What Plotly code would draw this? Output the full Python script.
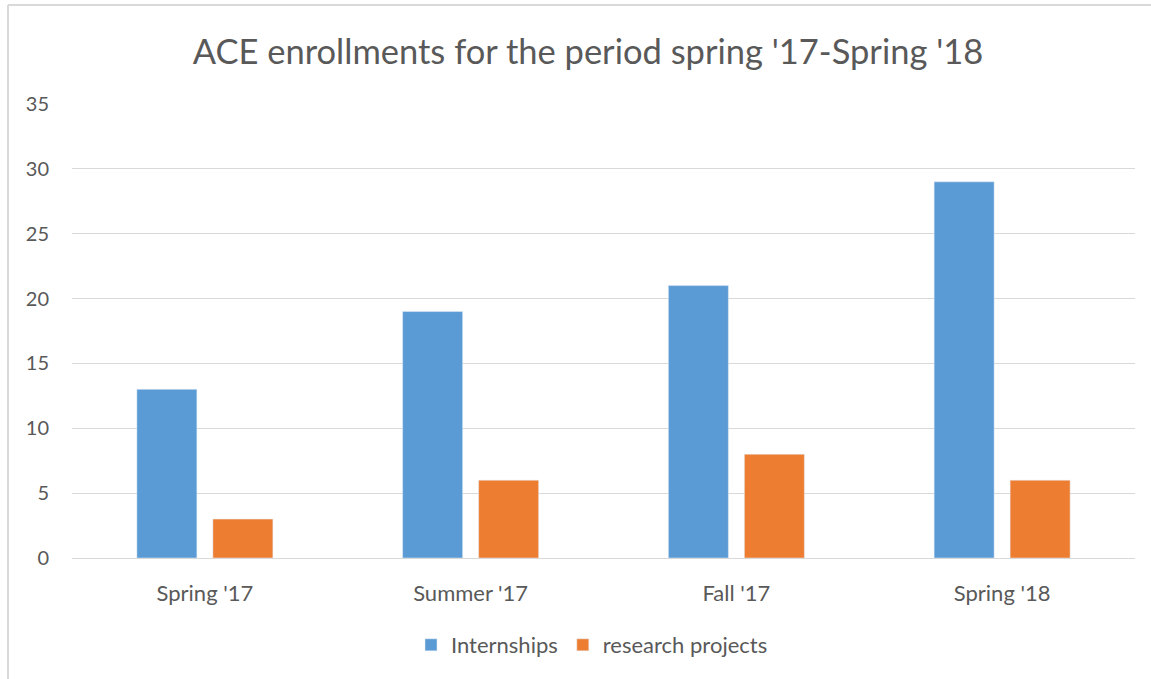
import plotly.graph_objects as go

categories = ["Spring '17", "Summer '17", "Fall '17", "Spring '18"]
internships = [13, 19, 21, 29]
research_projects = [3, 6, 8, 6]
y_ticks = [0, 5, 10, 15, 20, 25, 30, 35]

FONT = "Lato"
GRAY = "#595959"

fig = go.Figure()
fig.add_trace(go.Bar(name="Internships", x=categories, y=internships, marker_color="#5B9BD5"))
fig.add_trace(go.Bar(name="research projects", x=categories, y=research_projects, marker_color="#ED7D31"))

W, H = 1151, 679
L, R, T, B = 72, 16, 104, 121
pw, ph = W - L - R, H - T - B

def px(x):
    return (x - L) / pw

def py(y):
    return (H - B - y) / ph

fig.update_layout(
    width=W, height=H,
    margin=dict(l=L, r=R, t=T, b=B, autoexpand=False),
    paper_bgcolor="white", plot_bgcolor="white",
    barmode="group", bargap=0.428, bargroupgap=0.2105,
    font=dict(family=FONT, color=GRAY, size=22),
    title=dict(text="ACE enrollments for the period spring '17-Spring '18",
               xref="paper", x=px(588), xanchor="center", y=1 - 52 / H, yanchor="middle",
               font=dict(family=FONT, size=34.5, color=GRAY)),
    showlegend=True,
    legend=dict(orientation="h", x=px(592), xanchor="center", y=py(645), yanchor="middle",
                font=dict(family=FONT, size=22, color=GRAY), itemwidth=30, traceorder="normal"),
    xaxis=dict(showgrid=False, showline=False, ticks="", ticklabelstandoff=20,
               tickfont=dict(family=FONT, size=22, color=GRAY)),
    yaxis=dict(range=[0, 35], tickvals=y_ticks, showgrid=True, gridcolor="#D9D9D9", gridwidth=1,
               zeroline=True, zerolinecolor="#D9D9D9", zerolinewidth=1, showline=False,
               ticks="", ticklabelstandoff=22,
               tickfont=dict(family=FONT, size=20, color=GRAY)),
    shapes=[
        dict(type="line", xref="paper", yref="paper", x0=px(8), x1=px(1151), y0=py(5), y1=py(5),
             line=dict(color="#D9D9D9", width=2)),
        dict(type="line", xref="paper", yref="paper", x0=px(8), x1=px(8), y0=py(5), y1=py(679),
             line=dict(color="#D9D9D9", width=2)),
    ],
)

fig.write_html("out.html", config={"displayModeBar": False},
               post_script="document.body.style.margin='0';")
